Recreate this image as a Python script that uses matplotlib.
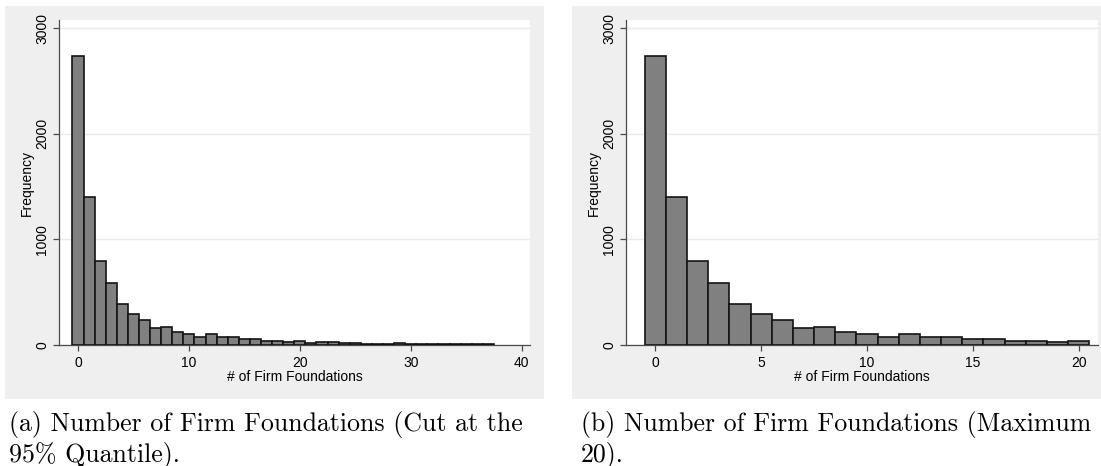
import matplotlib
matplotlib.use("Agg")
import matplotlib.pyplot as plt
from matplotlib.patches import Rectangle
import numpy as np

# Data: frequency of number of firm foundations (values 0..37)
foundations = list(range(38))
frequency = [2738, 1402, 796, 584, 388, 294, 234, 161, 168, 126,
             102, 76, 104, 79, 73, 60, 58, 42, 36, 32,
             42, 22, 28, 28, 20, 18, 14, 14, 6, 20,
             8, 14, 12, 6, 8, 10, 6, 6]
max_b = 20
yticks = [0, 1000, 2000, 3000]
xticks_a = [0, 10, 20, 30, 40]
xticks_b = [0, 5, 10, 15, 20]
caption_a = ["(a) Number of Firm Foundations (Cut at the", "95% Quantile)."]
caption_b = ["(b) Number of Firm Foundations (Maximum", "20)."]

W, H = 1101, 466
fig = plt.figure(figsize=(W / 100, H / 100), dpi=100)
fig.patch.set_facecolor("white")

bg = "#EFEFEF"
for x0, x1 in [(5, 544), (572, 1101)]:
    fig.patches.append(Rectangle((x0 / W, 1 - 399 / H), (x1 - x0) / W, (399 - 6) / H,
                                 transform=fig.transFigure, facecolor=bg,
                                 edgecolor="none", zorder=-10))

def px_axes(l, r, t, b):
    ax = fig.add_axes([l / W, 1 - b / H, (r - l) / W, (b - t) / H])
    ax.set_zorder(1)
    return ax

def style(ax, xticks, xlim):
    ax.set_facecolor("white")
    ax.set_ylim(0, 3079)
    ax.set_xlim(*xlim)
    ax.set_yticks(yticks)
    ax.set_yticklabels([str(v) for v in yticks], rotation=90, va="center")
    ax.set_xticks(xticks)
    ax.yaxis.grid(True, color="#EAEAEA", linewidth=1.0)
    ax.set_axisbelow(True)
    for s in ["top", "right"]:
        ax.spines[s].set_visible(False)
    for s in ["left", "bottom"]:
        ax.spines[s].set_color("#4a4a4a")
        ax.spines[s].set_linewidth(0.9)
    ax.tick_params(axis="both", direction="out", length=4, width=0.9,
                   color="#4a4a4a", labelsize=10, labelcolor="black",
                   labelfontfamily="Liberation Sans")
    ax.tick_params(axis="y", pad=3)
    ax.tick_params(axis="x", pad=4)
    ax.set_xlabel("# of Firm Foundations", fontsize=10, family="Liberation Sans", labelpad=0)
    ax.set_ylabel("Frequency", fontsize=10, family="Liberation Sans", labelpad=1)

bar_kw = dict(width=1.0, color="#808080", edgecolor="#141414", linewidth=1.2, zorder=3)

ax1 = px_axes(59, 530, 20, 345)
ax1.bar(foundations, frequency, **bar_kw)
style(ax1, xticks_a, (-1.71, 40.75))

ax2 = px_axes(626, 1098, 20, 345)
ax2.bar(foundations[:max_b + 1], frequency[:max_b + 1], **bar_kw)
style(ax2, xticks_b, (-1.38, 20.91))

cap_kw = dict(fontsize=18.6, family="cmr10", va="baseline", ha="left")
for x, lines in [(9, caption_a), (581, caption_b)]:
    fig.text(x / W, 1 - 431 / H, lines[0], **cap_kw)
    fig.text(x / W, 1 - 461 / H, lines[1], **cap_kw)

fig.savefig("out.png", dpi=100)
